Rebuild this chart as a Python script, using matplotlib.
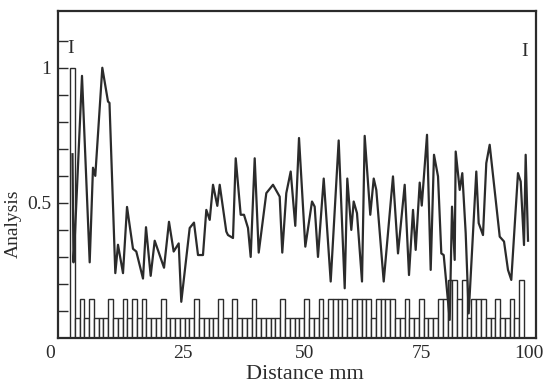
import matplotlib
matplotlib.use("Agg")
import matplotlib.pyplot as plt
import matplotlib.transforms as mtransforms
import numpy as np

# ---- data ----
line_x = [3.03, 3.24, 3.56, 5.02, 6.63, 7.32, 7.80, 9.27, 10.46, 10.77, 11.99, 12.55,
          13.60, 14.44, 15.69, 16.38, 17.78, 18.41, 19.39, 20.23, 22.18, 23.22, 24.20,
          25.25, 25.79, 27.55, 28.45, 29.29, 30.33, 31.03, 31.74, 32.43, 33.33, 33.83,
          35.21, 35.56, 36.61, 37.18, 38.22, 38.91, 39.75, 40.31, 41.15, 41.99, 43.58,
          44.98, 46.38, 46.92, 47.76, 48.68, 49.64, 50.42, 51.74, 53.14, 53.70, 54.39,
          55.59, 57.05, 58.72, 59.98, 60.52, 61.36, 61.86, 62.55, 63.60, 64.16, 65.33,
          66.05, 66.59, 68.14, 70.08, 71.13, 72.53, 73.43, 74.27, 74.83, 75.67, 76.10,
          77.20, 77.97, 78.66, 79.50, 80.19, 80.69, 81.95, 82.43, 82.99, 83.20, 84.04,
          84.58, 85.29, 85.92, 87.51, 88.01, 88.91, 89.60, 90.31, 92.41, 93.31, 94.14,
          94.83, 96.23, 96.80, 97.49, 97.84, 98.33]
line_y = [0.68, 0.28, 0.39, 0.97, 0.28, 0.63, 0.60, 1.00, 0.875, 0.87, 0.24, 0.345,
          0.24, 0.485, 0.33, 0.32, 0.22, 0.41, 0.23, 0.36, 0.26, 0.43, 0.32,
          0.35, 0.134, 0.407, 0.427, 0.307, 0.307, 0.474, 0.437, 0.567, 0.489, 0.567,
          0.394, 0.381, 0.37, 0.665, 0.456, 0.456, 0.407, 0.30, 0.665, 0.316, 0.536,
          0.567, 0.523, 0.316, 0.536, 0.616, 0.415, 0.74, 0.338, 0.505, 0.486, 0.30,
          0.59, 0.209, 0.731, 0.184, 0.59, 0.40, 0.505, 0.462, 0.209, 0.748, 0.456,
          0.59, 0.548, 0.209, 0.598, 0.313, 0.567, 0.233, 0.474, 0.326, 0.575, 0.49,
          0.752, 0.252, 0.678, 0.598, 0.313, 0.307, 0.067, 0.486, 0.289, 0.69, 0.548,
          0.61, 0.388, 0.091, 0.616, 0.425, 0.381, 0.647, 0.715, 0.375, 0.357, 0.252,
          0.215, 0.61, 0.579, 0.344, 0.678, 0.36]

bar_x = list(range(3, 98))
L, H, T = 0.074, 0.144, 0.215
bar_h = [1.0,                       # 3
         L, H, L, H, L, L, L,       # 4-10
         H, L, L, H, L, H, L, H,    # 11-18
         L, L, L, H,                # 19-22
         L, L, L, L, L, L, H,       # 23-29
         L, L, L, L, H, L, L, H,    # 30-37
         L, L, L, H,                # 38-41
         L, L, L, L, L, H,          # 42-47
         L, L, L, L, H, L, L, H, L, # 48-56
         H, H, H, H, L, H, H, H, H, L, H, H, H, H,  # 57-70
         L, L, H, L, L, H,          # 71-76
         L, L, L, H, H, T, T, H, T, L,  # 77-86
         H, H, H, L, L, H, L, L, H, L, T]  # 87-97

y_ticks = [0.5, 1]
y_ticklabels = ["0.5", "1"]
x_ticks = [0, 25, 50, 75, 100]
x_ticklabels = ["0", "25", "50", "75", "100"]

serif = ["Liberation Serif", "DejaVu Serif"]
ink = "#2b2b2b"

fig = plt.figure(figsize=(5.43, 3.83), dpi=100)
ax = fig.add_axes([58/543, 1-338/383, 478/543, 327/383])

ax.bar(bar_x, bar_h, width=1.0, facecolor="white", edgecolor=ink, linewidth=1.0, zorder=2)
ax.plot(line_x, line_y, color=ink, linewidth=1.6, zorder=3)

ax.set_xlim(0, 100)
ax.set_ylim(0, 1.21)

ax.set_xticks(x_ticks)
ax.set_xticklabels(x_ticklabels, fontfamily=serif, fontsize=14, color=ink)
ax.tick_params(axis="x", length=0, pad=5)
# small per-label nudges as in the printed figure
nudges = [-8, 5, 8, 5, -7]
for lab, dx in zip(ax.get_xticklabels(), nudges):
    lab.set_transform(lab.get_transform() +
                      mtransforms.ScaledTranslation(dx / 100, 0, fig.dpi_scale_trans))

ax.set_yticks(y_ticks)
ax.set_yticklabels(y_ticklabels, fontfamily=serif, fontsize=14, color=ink)
ax.set_yticks(np.arange(0.1, 1.15, 0.1), minor=True)
ax.tick_params(axis="y", which="both", direction="in", length=7.5, width=1.0,
               color=ink, pad=5)

for s in ax.spines.values():
    s.set_color(ink)
    s.set_linewidth(1.6)

ax.set_xlabel("Distance mm", fontfamily=serif, fontsize=16, color=ink)
ax.xaxis.set_label_coords(0.517, -0.082)
ax.set_ylabel("Analysis", fontfamily=serif, fontsize=14, color=ink)
ax.yaxis.set_label_coords(-0.075, 0.35)

ax.text(2.7, 1.07, "I", fontfamily=serif, fontsize=14, color=ink, ha="center", va="center")
ax.text(97.7, 1.06, "I", fontfamily=serif, fontsize=14, color=ink, ha="center", va="center")

fig.savefig("out.png", dpi=100)
